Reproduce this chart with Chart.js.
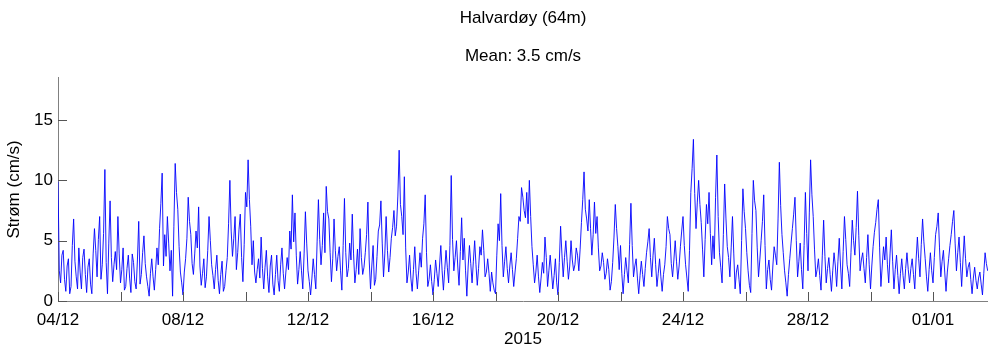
<!DOCTYPE html>
<html>
<head>
<meta charset="utf-8">
<title>Halvardøy (64m)</title>
<script src="https://cdn.jsdelivr.net/npm/chart.js@4"></script>
<style>
  body { margin: 0; background: #fff; }
  .chart-box { width: 988px; height: 350px; }
</style>
</head>
<body>
<div class="chart-box"><canvas id="lineChart"></canvas></div>
<script>
// current speed (cm/s), hourly from 04/12 00:00, one row per day
const speed = [
  9.9, 2.5, 1.5, 3.8, 4.2, 1.8, 0.8, 2.9, 3.5, 0.6, 1.2, 4.6, 6.8, 3.3, 2.0, 1.0, 4.4, 2.4, 1.0, 3.6, 4.3, 2.2, 0.7, 2.8,
  3.5, 1.4, 0.6, 3.9, 6.0, 4.2, 2.0, 5.1, 7.0, 1.8, 3.0, 5.6, 10.9, 3.2, 0.6, 4.8, 8.3, 3.6, 1.6, 3.0, 4.1, 2.6, 7.0, 3.9,
  1.5, 2.6, 4.4, 0.9, 1.2, 2.7, 3.8, 1.9, 0.7, 3.9, 3.2, 1.6, 1.0, 3.4, 6.6, 1.4, 2.2, 4.0, 5.4, 3.1, 2.0, 1.2, 0.4, 2.3,
  3.5, 2.0, 0.9, 2.6, 4.4, 3.0, 6.0, 8.1, 10.6, 2.9, 5.5, 3.7, 7.0, 4.8, 2.5, 4.2, 0.4, 6.2, 11.4, 9.0, 7.6, 4.5, 2.4, 1.5,
  0.5, 2.4, 3.5, 5.2, 8.6, 6.6, 5.5, 3.1, 2.2, 3.9, 5.8, 4.4, 7.8, 2.9, 1.3, 2.3, 3.5, 1.1, 2.0, 4.2, 7.0, 5.0, 3.0, 2.1,
  1.0, 2.6, 3.8, 1.7, 0.6, 2.2, 3.3, 0.8, 1.2, 2.5, 3.6, 6.4, 10.0, 5.8, 3.7, 5.2, 7.0, 2.6, 4.0, 5.9, 7.2, 3.6, 1.6, 4.7,
  9.0, 7.8, 11.7, 8.4, 6.2, 3.0, 5.0, 2.4, 1.5, 2.6, 3.5, 1.9, 5.3, 2.7, 1.0, 2.8, 4.2, 2.0, 0.7, 2.9, 3.8, 1.4, 0.5, 2.2,
  3.8, 1.7, 0.8, 3.0, 4.4, 2.3, 1.0, 2.4, 3.6, 2.6, 5.8, 4.3, 8.8, 4.9, 7.3, 3.8, 1.4, 2.6, 4.1, 2.5, 1.0, 3.9, 7.4, 4.8,
  2.5, 1.6, 0.5, 1.9, 3.5, 2.2, 1.0, 4.9, 8.4, 5.1, 3.0, 4.6, 7.3, 4.0, 9.5, 7.4, 6.8, 4.0, 1.6, 3.5, 6.8, 4.2, 2.5, 3.7,
  4.5, 2.5, 0.9, 4.6, 8.5, 4.0, 2.0, 2.7, 4.8, 3.4, 7.2, 3.9, 1.5, 2.6, 4.3, 2.2, 6.0, 3.6, 2.2, 2.8, 4.0, 5.5, 8.2, 3.4,
  1.0, 2.9, 4.6, 1.3, 1.8, 3.7, 5.8, 6.3, 8.3, 4.8, 2.0, 3.9, 7.0, 4.2, 2.4, 3.6, 5.2, 6.1, 7.5, 5.4, 6.2, 8.7, 12.5, 8.0,
  7.0, 5.5, 10.3, 4.4, 1.5, 2.4, 3.8, 1.9, 0.8, 2.6, 4.5, 2.3, 1.0, 2.5, 4.0, 2.8, 5.2, 6.4, 8.8, 4.0, 1.2, 1.8, 3.0, 1.6,
  0.5, 1.8, 3.4, 2.3, 1.2, 2.9, 4.6, 2.5, 0.9, 2.6, 4.2, 2.8, 1.5, 4.6, 10.4, 5.1, 2.5, 3.6, 5.0, 2.9, 1.3, 4.1, 6.9, 3.4,
  5.2, 2.5, 0.4, 2.9, 4.6, 3.1, 1.5, 3.3, 5.0, 3.0, 1.3, 2.7, 4.5, 3.8, 5.9, 4.2, 2.0, 2.4, 3.5, 2.3, 0.8, 2.4, 1.5, 0.9,
  0.6, 3.8, 6.4, 5.0, 8.9, 4.6, 2.0, 3.3, 4.5, 2.7, 1.5, 2.9, 4.0, 2.6, 1.2, 2.4, 3.5, 5.2, 7.0, 6.6, 9.4, 8.6, 7.5, 6.9,
  9.0, 6.4, 10.0, 7.0, 4.5, 3.0, 1.5, 2.4, 3.8, 2.0, 0.7, 1.9, 3.2, 2.3, 5.3, 3.6, 1.2, 2.5, 3.8, 2.4, 1.0, 2.1, 3.5, 1.5,
  0.5, 3.2, 6.2, 3.9, 2.0, 3.6, 5.0, 3.3, 1.8, 2.9, 5.0, 3.4, 2.5, 3.0, 4.4, 3.8, 2.5, 4.3, 6.5, 8.4, 10.7, 7.6, 6.8, 5.8,
  8.4, 6.0, 3.8, 5.5, 8.2, 5.6, 7.0, 4.4, 2.5, 2.9, 4.0, 3.2, 1.8, 2.3, 3.5, 2.6, 0.9, 1.6, 3.2, 5.3, 8.0, 6.0, 4.5, 2.6,
  4.6, 2.3, 0.6, 2.2, 3.6, 2.5, 1.5, 4.7, 8.1, 4.6, 2.0, 2.9, 3.5, 1.9, 0.6, 2.1, 3.3, 2.2, 1.2, 2.7, 4.0, 4.9, 6.0, 3.6,
  2.0, 3.8, 5.2, 3.0, 1.2, 2.3, 3.5, 2.0, 0.8, 2.2, 3.0, 4.5, 7.0, 6.0, 5.5, 3.1, 2.0, 3.4, 5.0, 3.3, 1.8, 2.9, 4.5, 5.8,
  7.0, 4.6, 3.0, 1.9, 0.8, 4.2, 9.0, 11.0, 13.4, 8.9, 6.0, 8.2, 10.0, 8.0, 6.5, 4.3, 2.0, 5.1, 8.0, 6.4, 9.0, 5.6, 3.0, 5.4,
  3.5, 8.6, 12.1, 7.0, 4.0, 2.8, 1.5, 5.5, 9.7, 6.8, 4.5, 3.6, 2.0, 4.4, 7.0, 3.9, 1.0, 2.4, 3.0, 1.8, 0.6, 5.0, 9.3, 7.4,
  6.0, 4.0, 2.5, 1.3, 0.7, 5.6, 10.0, 8.3, 7.5, 4.4, 2.0, 3.4, 5.0, 6.6, 8.8, 4.6, 1.0, 2.6, 3.4, 1.8, 0.9, 2.9, 4.5, 3.8,
  3.0, 6.8, 11.5, 7.9, 5.5, 4.0, 2.5, 1.5, 0.4, 2.2, 3.5, 4.8, 6.0, 7.2, 8.6, 5.0, 2.0, 3.3, 4.8, 2.6, 1.0, 4.6, 9.0, 5.6,
  2.5, 7.3, 11.7, 8.8, 7.0, 4.3, 2.0, 2.6, 3.5, 2.1, 0.9, 3.8, 6.7, 3.7, 1.5, 2.7, 3.6, 2.2, 0.8, 2.5, 4.0, 2.9, 1.2, 3.3,
  5.2, 2.9, 1.0, 4.1, 7.0, 5.1, 3.0, 2.3, 1.2, 4.0, 6.7, 5.0, 3.8, 6.1, 9.1, 5.4, 2.5, 3.4, 4.0, 2.7, 1.5, 3.6, 5.5, 3.0,
  1.0, 2.9, 4.5, 5.7, 6.5, 7.6, 8.4, 4.4, 1.2, 2.9, 4.5, 3.4, 5.3, 3.0, 1.5, 3.9, 5.9, 3.3, 1.0, 2.6, 3.8, 2.1, 0.6, 2.3,
  3.5, 2.1, 1.0, 2.7, 4.0, 2.6, 1.5, 2.7, 3.5, 2.2, 1.0, 3.4, 5.3, 3.5, 2.0, 4.7, 6.8, 4.9, 3.5, 2.0, 0.8, 2.6, 4.0, 2.5,
  1.5, 3.6, 5.5, 6.2, 7.3, 4.4, 2.0, 3.3, 4.2, 2.4, 0.8, 2.4, 3.5, 4.6, 5.5, 6.6, 7.5, 4.8, 2.5, 4.0, 5.3, 3.2, 1.2, 3.4,
  5.4, 3.5, 2.0, 2.8, 3.2, 1.8, 0.6, 1.9, 2.8, 1.7, 1.0, 1.9, 2.4, 1.4, 0.5, 2.3, 4.0, 3.1, 2.5
];
const stepDays = 1 / 24;
const lastDay = 29.76;

// one label per 4 days, starting 04/12
const dateLabels = ['04/12', '08/12', '12/12', '16/12', '20/12', '24/12', '28/12', '01/01'];
const yTicks = [0, 5, 10, 15];

document.addEventListener('DOMContentLoaded', function () {

    const font = { family: "'Liberation Sans', Arial, sans-serif", size: 17 };
    Chart.defaults.font.family = font.family;
    Chart.defaults.color = '#000';

    /* inward tick marks, like the matlab axes */
    const innerTicks = {
        id: 'innerTicks',
        afterDatasetsDraw(chart) {
            const { ctx, chartArea, scales } = chart;
            ctx.save();
            ctx.strokeStyle = '#555';
            ctx.lineWidth = 1;
            ctx.beginPath();
            scales.x.ticks.forEach(t => {
                const px = Math.round(scales.x.getPixelForValue(t.value)) + 0.5;
                ctx.moveTo(px, chartArea.bottom);
                ctx.lineTo(px, chartArea.bottom - 9);
            });
            scales.y.ticks.forEach(t => {
                const py = Math.round(scales.y.getPixelForValue(t.value)) + 0.5;
                ctx.moveTo(chartArea.left, py);
                ctx.lineTo(chartArea.left + 9, py);
            });
            ctx.stroke();
            ctx.restore();
        }
    };

    const ctxLine = document.getElementById('lineChart').getContext('2d');
    new Chart(ctxLine, {
        type: 'line',
        data: {
            datasets: [{
                data: speed.map((v, i) => ({ x: i * stepDays, y: v })),
                borderColor: '#0000ff',
                borderWidth: 0.9,
                pointRadius: 0,
                tension: 0,
                fill: false
            }]
        },
        options: {
            responsive: true,
            maintainAspectRatio: false,
            animation: false,
            devicePixelRatio: 1,
            layout: { padding: 0 },
            plugins: {
                legend: { display: false },
                tooltip: { enabled: false },
                title: {
                    display: true,
                    text: 'Halvardøy (64m)',
                    fullSize: false,
                    font: { size: 17, weight: 'normal' },
                    color: '#000',
                    padding: { top: 8, bottom: 18 }
                },
                subtitle: {
                    display: true,
                    text: 'Mean: 3.5 cm/s',
                    fullSize: false,
                    font: { size: 17 },
                    color: '#000',
                    padding: { top: 0, bottom: 11 }
                }
            },
            scales: {
                x: {
                    type: 'linear',
                    min: 0,
                    max: lastDay,
                    grid: { display: false, drawTicks: false },
                    border: { display: true, color: '#808080', width: 1 },
                    ticks: {
                        stepSize: 2,
                        includeBounds: false,
                        autoSkip: false,
                        maxRotation: 0,
                        padding: 9,
                        font: font,
                        callback: v => (v % 4 === 0 ? dateLabels[v / 4] : '')
                    },
                    title: {
                        display: true,
                        text: '2015',
                        font: font,
                        padding: { top: 0, bottom: 0 }
                    },
                    afterFit: s => { s.height = 49; }
                },
                y: {
                    min: 0,
                    max: 18.5,
                    grid: { display: false, drawTicks: false },
                    border: { display: true, color: '#808080', width: 1 },
                    ticks: {
                        stepSize: 5,
                        includeBounds: false,
                        padding: 5,
                        font: font,
                        callback: v => (yTicks.includes(v) ? String(v) : '')
                    },
                    title: {
                        display: true,
                        text: 'Strøm (cm/s)',
                        font: font,
                        padding: { top: 4, bottom: 0 }
                    },
                    afterFit: s => { s.width = 58; }
                }
            }
        },
        plugins: [innerTicks]
    });

});
</script>
</body>
</html>
